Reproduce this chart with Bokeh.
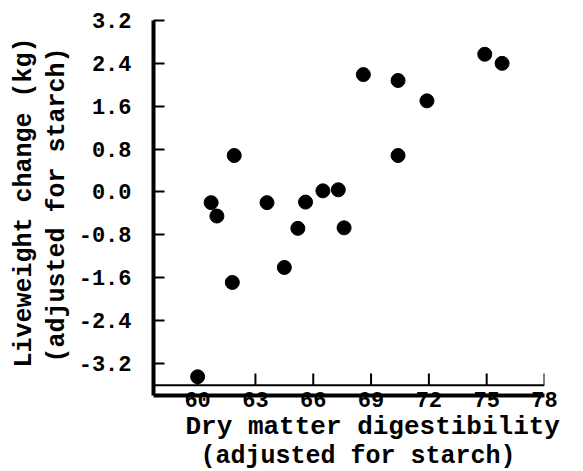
from bokeh.plotting import figure
from bokeh.models import Range1d, FixedTicker, NumeralTickFormatter, Span, Title
from bokeh.embed import file_html
from bokeh.resources import INLINE

# data
digestibility = [74.9, 75.8, 68.6, 70.4, 71.9, 61.9, 70.4, 66.5, 67.3, 60.7,
                 63.6, 65.6, 61.0, 65.2, 67.6, 64.5, 61.8, 60.0]
liveweight = [2.57, 2.40, 2.19, 2.08, 1.70, 0.68, 0.68, 0.02, 0.04, -0.20,
              -0.20, -0.19, -0.45, -0.68, -0.67, -1.41, -1.69, -3.45]
x_ticks = [60, 63, 66, 69, 72, 75, 78]
y_ticks = [-3.2, -2.4, -1.6, -0.8, 0.0, 0.8, 1.6, 2.4, 3.2]

FONT = "Liberation Mono"
X_FLOOR = -3.61     # level of the thin tick line
TICK_LEN = 0.22

p = figure(frame_width=391, frame_height=375, output_backend="svg", toolbar_location=None,
           x_range=Range1d(57.71, 78), y_range=Range1d(-3.80, 3.2),
           min_border_left=153, min_border_right=31, min_border_top=20,
           min_border_bottom=76)
p.outline_line_color = None
p.xgrid.visible = False
p.ygrid.visible = False
p.background_fill_color = "white"
p.border_fill_color = "white"

# y axis
ya = p.yaxis[0]
ya.ticker = FixedTicker(ticks=y_ticks)
ya.formatter = NumeralTickFormatter(format="0.0")
ya.axis_line_width = 4
ya.axis_line_color = "black"
ya.major_tick_in = 11
ya.major_tick_out = 0
ya.major_tick_line_width = 2
ya.minor_tick_line_color = None
ya.major_label_standoff = 22
ya.major_label_text_font = FONT
ya.major_label_text_font_style = "bold"
ya.major_label_text_font_size = "22px"
ya.major_label_text_color = "black"

# x axis (heavy bottom line with labels)
xa = p.xaxis[0]
xa.ticker = FixedTicker(ticks=x_ticks)
xa.axis_line_width = 4
xa.axis_line_color = "black"
xa.major_tick_in = 0
xa.major_tick_out = 0
xa.minor_tick_line_color = None
xa.major_label_standoff = -4
xa.major_label_text_font = FONT
xa.major_label_text_font_style = "bold"
xa.major_label_text_font_size = "22px"
xa.major_label_text_color = "black"

# thin line with upward ticks
p.add_layout(Span(location=X_FLOOR, dimension="width", line_color="black", line_width=2))
p.segment(x0=x_ticks, y0=[X_FLOOR] * len(x_ticks), x1=x_ticks,
          y1=[X_FLOOR + TICK_LEN] * len(x_ticks), line_color="black", line_width=2)

p.scatter(digestibility, liveweight, size=14, color="black")

ystyle = dict(text_font=FONT, text_font_style="bold", text_font_size="25px",
              text_color="black", align="left")
xstyle = dict(text_font=FONT, text_font_style="bold",
              text_color="black", align="left")
p.add_layout(Title(text="(adjusted for starch)", offset=33, standoff=8, **ystyle), "left")
p.add_layout(Title(text="Liveweight change (kg)", offset=28, standoff=-5, **ystyle), "left")
p.add_layout(Title(text="Dry matter digestibility", offset=32, standoff=1,
                   text_font_size="26px", **xstyle), "below")
p.add_layout(Title(text="(adjusted for starch)", offset=47, standoff=-5,
                   text_font_size="25px", **xstyle), "below")

open("out.html", "w").write(file_html(p, INLINE))
